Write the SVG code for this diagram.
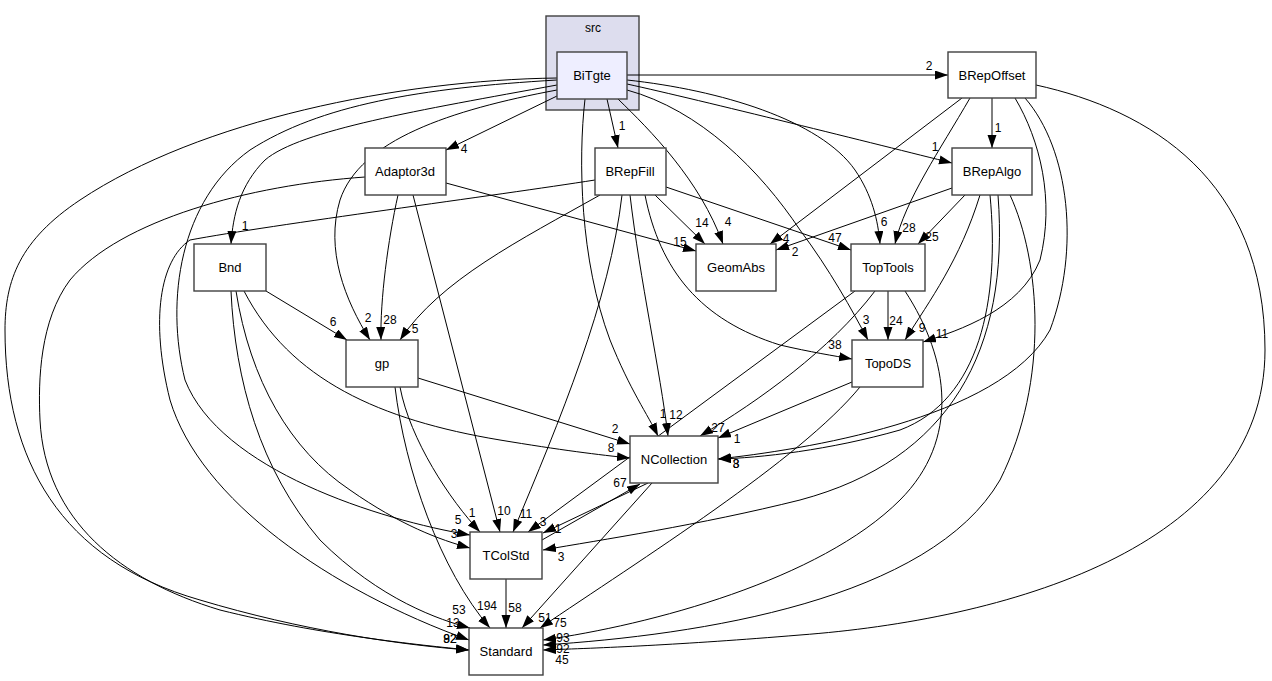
<svg xmlns="http://www.w3.org/2000/svg" width="1272" height="681" viewBox="0 0 1272 681">
<style>
.node rect{fill:#ffffff;stroke:#404040;stroke-width:1.4}
.node text,.cl text{font-family:"Liberation Sans",Arial,sans-serif;font-size:13px;text-anchor:middle;fill:#000}
.edges path{fill:none;stroke:#000;stroke-width:1;marker-end:url(#ah)}
.lbl text{font-family:"Liberation Sans",Arial,sans-serif;font-size:12px;text-anchor:middle;fill:#000}
</style>
<defs>
<marker id="ah" markerUnits="userSpaceOnUse" markerWidth="14" markerHeight="10" refX="13" refY="4.5" orient="auto">
<path d="M0,0 L13,4.5 L0,9 z" fill="#000"/>
</marker>
</defs>
<rect width="1272" height="681" fill="#fff"/>
<g id="cluster_src" class="cl">
<rect x="546" y="16" width="93" height="94" fill="#ddddee" stroke="#404040" stroke-width="1.4"/>
<text x="593" y="32" style="font-size:12px">src</text>
</g>
<g class="edges" id="edges">
<path d="M627,75 L948,75"/>
<path d="M627,84 C700,100 880,145 952,163"/>
<path d="M627,80 C720,90 820,120 855,170 C872,195 878,220 880,244"/>
<path d="M627,90 C700,110 760,170 800,230 C830,270 852,310 868,340"/>
<path d="M618,99 C650,130 700,180 723,244"/>
<path d="M607,99 L618,148"/>
<path d="M585,99 C578,160 580,260 610,340 C630,390 648,415 658,436"/>
<path d="M557,96 L446,150"/>
<path d="M557,90 C450,110 360,140 340,200 C325,250 345,300 370,340"/>
<path d="M557,85 C420,110 300,130 265,160 C240,185 233,215 231,244"/>
<path d="M557,80 C420,88 320,105 250,150 C180,200 165,300 185,380 C220,470 380,520 470,535"/>
<path d="M557,78 C400,80 200,120 80,200 C20,240 5,280 5,330 C5,460 60,560 200,600 C300,630 400,645 469,650"/>
<path d="M365,177 C250,185 120,220 70,280 C40,320 38,380 40,420 C45,520 120,580 220,610 C320,635 420,645 469,650"/>
<path d="M398,195 C388,240 380,300 381,340"/>
<path d="M413,195 L500,532"/>
<path d="M446,183 L696,251"/>
<path d="M595,180 C500,195 270,225 190,240 C160,260 150,320 170,400 C200,500 330,590 469,640"/>
<path d="M600,195 C520,240 440,280 400,340"/>
<path d="M655,195 L705,244"/>
<path d="M666,187 L851,250"/>
<path d="M645,195 C660,270 700,320 780,345 C810,352 835,356 852,359"/>
<path d="M622,195 C610,300 560,420 513,532"/>
<path d="M630,195 C640,280 660,370 668,436"/>
<path d="M266,291 L347,340"/>
<path d="M231,291 C235,380 260,470 320,540 C380,600 440,620 470,628"/>
<path d="M236,291 C250,380 290,450 350,490 C400,525 440,540 470,548"/>
<path d="M244,291 C290,380 380,420 500,440 C560,450 600,455 630,458"/>
<path d="M418,378 L630,444"/>
<path d="M400,387 C410,440 450,500 480,532"/>
<path d="M395,387 C405,470 440,570 490,628"/>
<path d="M992,98 L992,148"/>
<path d="M962,98 L770,244"/>
<path d="M970,98 C940,150 905,200 895,244"/>
<path d="M1015,98 C1040,140 1055,200 1040,260 C1020,310 960,330 923,342"/>
<path d="M1025,98 C1070,150 1080,250 1050,330 C1000,420 800,450 718,459"/>
<path d="M1036,85 C1150,110 1265,180 1265,350 C1265,550 1000,620 800,635 C680,645 600,648 543,650"/>
<path d="M952,188 L776,250"/>
<path d="M965,195 L918,244"/>
<path d="M980,195 C960,260 930,300 905,340"/>
<path d="M990,195 C1000,300 980,400 900,430 C830,450 760,458 718,459"/>
<path d="M998,195 C1010,350 950,460 800,500 C700,525 600,540 543,550"/>
<path d="M1010,195 C1040,260 1050,380 1000,480 C930,600 700,635 543,645"/>
<path d="M888,291 L888,340"/>
<path d="M855,291 L528,532"/>
<path d="M875,291 C830,350 760,400 700,436"/>
<path d="M905,291 C950,360 960,440 900,500 C820,580 650,625 543,640"/>
<path d="M852,382 L718,438"/>
<path d="M860,387 C800,460 640,560 540,628"/>
<path d="M652,483 L522,628"/>
<path d="M648,483 L543,533"/>
<path d="M542,540 L640,484"/>
<path d="M506,579 L506,628"/>
</g>
<g class="lbl" id="labels">
<text x="929" y="70">2</text>
<text x="935" y="151">1</text>
<text x="884" y="226">6</text>
<text x="866" y="324">3</text>
<text x="728" y="226">4</text>
<text x="622" y="130">1</text>
<text x="663" y="418">1</text>
<text x="464" y="153">4</text>
<text x="368" y="322">2</text>
<text x="245" y="230">1</text>
<text x="458" y="524">5</text>
<text x="450" y="643">92</text>
<text x="450" y="643">82</text>
<text x="390" y="324">28</text>
<text x="504" y="515">10</text>
<text x="680" y="246">15</text>
<text x="453" y="627">13</text>
<text x="415" y="333">5</text>
<text x="702" y="227">14</text>
<text x="835" y="242">47</text>
<text x="835" y="349">38</text>
<text x="526" y="518">11</text>
<text x="676" y="419">12</text>
<text x="333" y="326">6</text>
<text x="459" y="614">53</text>
<text x="454" y="538">3</text>
<text x="611" y="452">8</text>
<text x="615" y="433">2</text>
<text x="472" y="517">1</text>
<text x="487" y="610">194</text>
<text x="998" y="132">1</text>
<text x="786" y="243">4</text>
<text x="909" y="232">28</text>
<text x="942" y="338">11</text>
<text x="736" y="468">3</text>
<text x="562" y="664">45</text>
<text x="795" y="256">2</text>
<text x="932" y="241">25</text>
<text x="922" y="332">9</text>
<text x="736" y="468">8</text>
<text x="561" y="561">3</text>
<text x="563" y="653">92</text>
<text x="896" y="325">24</text>
<text x="543" y="526">3</text>
<text x="718" y="432">27</text>
<text x="563" y="642">93</text>
<text x="737" y="443">1</text>
<text x="560" y="627">75</text>
<text x="545" y="622">51</text>
<text x="558" y="533">1</text>
<text x="620" y="487">67</text>
<text x="515" y="612">58</text>
</g>
<g id="BiTgte" class="node"><rect x="557" y="52" width="70" height="47" style="fill:#eeeeff"/><text x="592" y="80">BiTgte</text></g>
<g id="BRepOffset" class="node"><rect x="948" y="52" width="88" height="46"/><text x="992" y="80">BRepOffset</text></g>
<g id="Adaptor3d" class="node"><rect x="365" y="148" width="81" height="47"/><text x="405" y="176">Adaptor3d</text></g>
<g id="BRepFill" class="node"><rect x="595" y="148" width="71" height="47"/><text x="630" y="176">BRepFill</text></g>
<g id="BRepAlgo" class="node"><rect x="952" y="148" width="80" height="47"/><text x="992" y="176">BRepAlgo</text></g>
<g id="Bnd" class="node"><rect x="194" y="244" width="72" height="47"/><text x="230" y="272">Bnd</text></g>
<g id="GeomAbs" class="node"><rect x="696" y="244" width="80" height="47"/><text x="736" y="272">GeomAbs</text></g>
<g id="TopTools" class="node"><rect x="851" y="244" width="74" height="47"/><text x="888" y="272">TopTools</text></g>
<g id="gp" class="node"><rect x="346" y="340" width="72" height="47"/><text x="382" y="368">gp</text></g>
<g id="TopoDS" class="node"><rect x="852" y="340" width="71" height="47"/><text x="888" y="368">TopoDS</text></g>
<g id="NCollection" class="node"><rect x="630" y="436" width="88" height="47"/><text x="674" y="464">NCollection</text></g>
<g id="TColStd" class="node"><rect x="470" y="532" width="72" height="47"/><text x="506" y="560">TColStd</text></g>
<g id="Standard" class="node"><rect x="469" y="628" width="74" height="47"/><text x="506" y="656">Standard</text></g>
</svg>
